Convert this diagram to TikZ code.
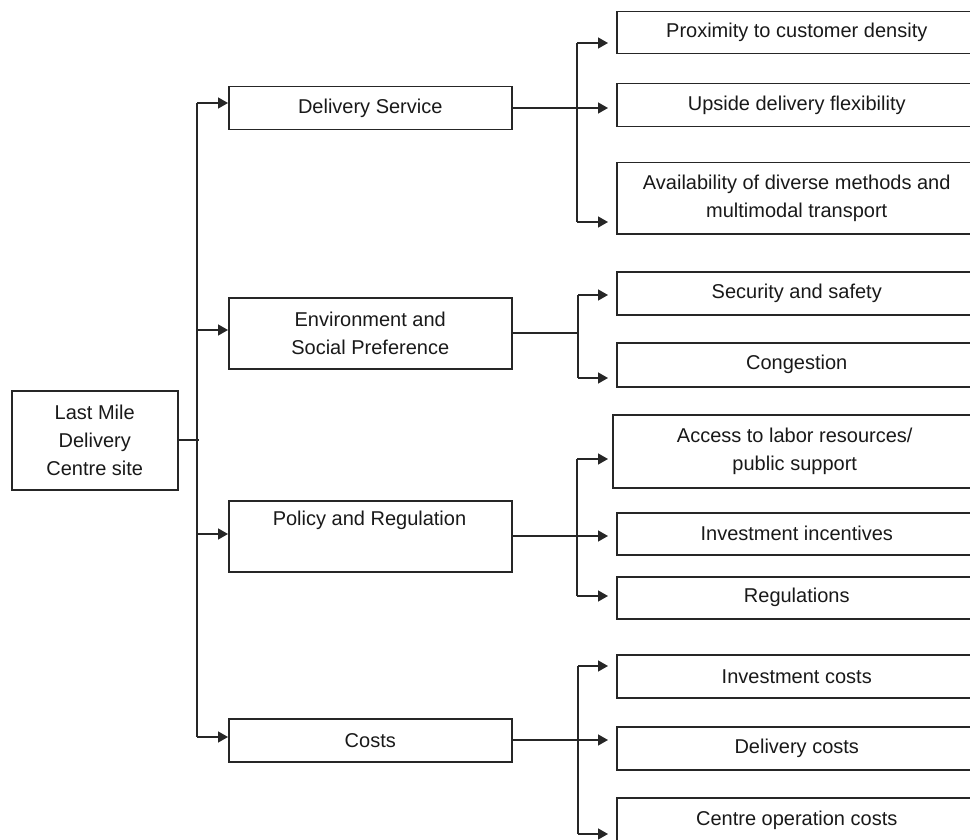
\documentclass[tikz,border=0pt]{standalone}
\usepackage{fontspec}
\setmainfont{Liberation Sans}
\usetikzlibrary{arrows.meta}
\begin{document}
\begin{tikzpicture}[x=1pt,y=-1pt,
  font=\fontsize{20}{28}\selectfont,
  box/.style={draw=black!85, line width=1.5pt, inner sep=0pt, anchor=north west, align=center, text=black!90},
  lab/.style={inner sep=0pt, align=center, text=black!90},
  conn/.style={draw=black!85, line width=1.5pt},
  arr/.style={conn, -{Triangle[length=10pt,width=11pt]}},
  arrb/.style={arr, shorten >=8pt}]
\useasboundingbox (0,0) rectangle (970,840);
\clip (0,0) rectangle (970,840);

% root
\node[box, minimum width=166pt, minimum height=99pt] (root) at (11,390) {Last Mile\\Delivery\\Centre site};

% level 1
\node[box, minimum width=283pt, minimum height=43pt] (ds) at (228,86) {Delivery Service};
\node[box, minimum width=283pt, minimum height=71pt] (env) at (228,297) {Environment and\\Social Preference};
\node[box, minimum width=283pt, minimum height=71pt] (pr) at (228,500) {};
\node[lab] (prl) at (369.5,520) {Policy and Regulation};
\node[box, minimum width=283pt, minimum height=43pt] (co) at (228,718) {Costs};

% level 2
\node[box, minimum width=360pt, minimum height=42pt] (p1) at (616,11) {Proximity to customer density};
\node[box, minimum width=360pt, minimum height=43pt] (p2) at (616,83) {Upside delivery flexibility};
\node[box, minimum width=360pt, minimum height=71pt] (p3) at (616,162) {Availability of diverse methods and\\multimodal transport};
\node[box, minimum width=360pt, minimum height=43pt] (s1) at (616,271) {Security and safety};
\node[box, minimum width=360pt, minimum height=44pt] (s2) at (616,342) {Congestion};
\node[box, minimum width=364pt, minimum height=73pt] (a1) at (612,414) {Access to labor resources/\\public support};
\node[box, minimum width=360pt, minimum height=42pt] (a2) at (616,512) {Investment incentives};
\node[box, minimum width=360pt, minimum height=42pt] (a3) at (616,576) {Regulations};
\node[box, minimum width=360pt, minimum height=43pt] (c1) at (616,654) {Investment costs};
\node[box, minimum width=360pt, minimum height=43pt] (c2) at (616,726) {Delivery costs};
\node[box, minimum width=360pt, minimum height=46pt] (c3) at (616,797) {Centre operation costs};

% main trunk
\coordinate (r0) at (177,440);
\coordinate (t0) at (199,440);
\coordinate (tT) at (197,103);
\coordinate (tE) at (197,330);
\coordinate (tP) at (197,534);
\coordinate (tB) at (197,737);
\draw[conn] (root.east |- r0) -- (t0);
\draw[conn] (tT) -- (tB);
\draw[arr] (tT) -- (ds.west |- tT);
\draw[arr] (tE) -- (env.west |- tE);
\draw[arr] (tP) -- (pr.west |- tP);
\draw[arr] (tB) -- (co.west |- tB);

% delivery service branch
\coordinate (dsy) at (511,108);
\coordinate (u1) at (577,43);
\coordinate (u2) at (577,222);
\draw[arrb] (ds.east |- dsy) -- (p2.west |- dsy);
\draw[conn] (u1) -- (u2);
\draw[arrb] (u1) -- (u1 -| p1.west);
\draw[arrb] (u2) -- (u2 -| p3.west);

% environment branch
\coordinate (eny) at (511,333);
\coordinate (v1) at (578,295);
\coordinate (v2) at (578,378);
\draw[conn] (env.east |- eny) -- (v1 |- eny);
\draw[conn] (v1) -- (v2);
\draw[arrb] (v1) -- (v1 -| s1.west);
\draw[arrb] (v2) -- (v2 -| s2.west);

% policy branch
\coordinate (pry) at (511,536);
\coordinate (w1) at (577,459);
\coordinate (w2) at (577,596);
\draw[arrb] (pr.east |- pry) -- (a2.west |- pry);
\draw[conn] (w1) -- (w2);
\draw[arrb] (w1) -- (w1 -| a2.west);
\draw[arrb] (w2) -- (w2 -| a3.west);

% costs branch
\coordinate (coy) at (511,740);
\coordinate (x1) at (578,666);
\coordinate (x2) at (578,834);
\draw[arrb] (co.east |- coy) -- (c2.west |- coy);
\draw[conn] (x1) -- (x2);
\draw[arrb] (x1) -- (x1 -| c1.west);
\draw[arrb] (x2) -- (x2 -| c3.west);
\end{tikzpicture}
\end{document}
